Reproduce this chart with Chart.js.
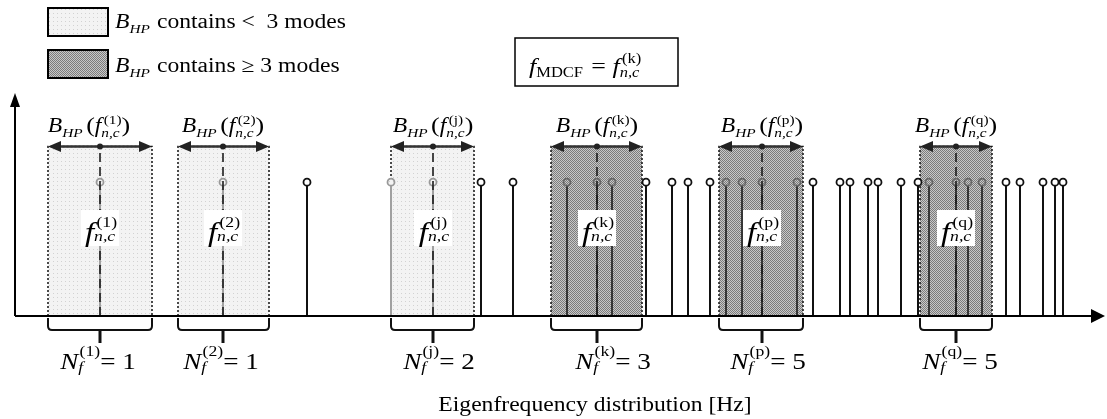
<!DOCTYPE html>
<html>
<head>
<meta charset="utf-8">
<script src="https://cdn.jsdelivr.net/npm/chart.js@4.4.1/dist/chart.umd.min.js"></script>
<style>
    body { margin: 0; background: #fff; }
    #wrap { width: 1107px; height: 419px; position: relative; }
</style>
</head>
<body>
<div id="wrap"><canvas id="modeChart"></canvas></div>
<script>
// eigenfrequencies of the modes, schematic units along the axis
const modeFreqs = [85, 208, 292, 376, 418, 466, 498, 552, 582, 597, 631, 657, 673, 695,
    711, 727, 747, 782, 798, 825, 835, 853, 863, 886, 903, 914, 941, 953, 967, 991,
    1005, 1028, 1040, 1048];

// half-power bands B_HP around each candidate frequency
const bandLeft = [33, 163, 376, 536, 704, 905];
const bandRight = [137, 254, 459, 627, 788, 977];
const bandCentre = [85, 208, 418, 582, 747, 941];
const bandTags = ['(1)', '(2)', '(j)', '(k)', '(p)', '(q)'];
const modeCounts = [1, 1, 2, 3, 5, 5];
const denseLimit = 3;

const stemHeight = 0.6;
const bandHeight = 0.76;
const freqMax = 1090;

// drawing constants
const SERIF = "'Liberation Serif', 'Times New Roman', serif";
const STRETCH = 1.18;
const bandLabelShift = [-11, 0, 0, 0, 0, 0];
const countLabelShift = [-2, -2, 6, 16, 6, 4];

const canvas = document.getElementById('modeChart');
const ctx0 = canvas.getContext('2d');

function makeDots() {
    const c = document.createElement('canvas');
    c.width = 4; c.height = 4;
    const g = c.getContext('2d');
    g.fillStyle = '#f3f3f3';
    g.fillRect(0, 0, 4, 4);
    g.fillStyle = '#d2d2d2';
    g.fillRect(1, 1, 1, 1);
    return ctx0.createPattern(c, 'repeat');
}

function makeChecker() {
    const c = document.createElement('canvas');
    c.width = 2; c.height = 2;
    const g = c.getContext('2d');
    g.fillStyle = '#c8c8c8';
    g.fillRect(0, 0, 2, 2);
    g.fillStyle = '#7c7c7c';
    g.fillRect(0, 0, 1, 1);
    g.fillRect(1, 1, 1, 1);
    return ctx0.createPattern(c, 'repeat');
}

const lightFill = makeDots();
const darkFill = makeChecker();

function isDense(i) {
    return modeCounts[i] >= denseLimit;
}

function bandOf(x) {
    return bandLeft.findIndex((l, i) => x >= l && x <= bandRight[i]);
}

function stemColour(x) {
    const i = bandOf(x);
    if (i < 0) return '#111';
    return isDense(i) ? '#363636' : '#a0a0a0';
}

function ringColour(x) {
    const i = bandOf(x);
    if (i < 0) return '#111';
    return isDense(i) ? '#666' : '#999';
}

function ringFill(x) {
    const i = bandOf(x);
    if (i < 0) return '#fff';
    return isDense(i) ? darkFill : lightFill;
}

// ---- rich text with sub/superscripts ----
function fontOf(p) {
    return (p.it ? 'italic ' : '') + p.size + 'px ' + SERIF;
}

function partWidth(ctx, p) {
    if (p.stack) return Math.max(...p.stack.map(q => partWidth(ctx, q) + (q.dx || 0)));
    ctx.font = fontOf(p);
    return ctx.measureText(p.t).width + (p.gap || 0);
}

function drawRich(ctx, x, y, parts, align) {
    ctx.save();
    const w = parts.reduce((s, p) => s + partWidth(ctx, p), 0);
    const x0 = align === 'left' ? x : x - w * STRETCH / 2;
    ctx.translate(x0, y);
    ctx.scale(STRETCH, 1);
    ctx.fillStyle = '#000';
    ctx.textAlign = 'left';
    ctx.textBaseline = 'alphabetic';
    let cx = 0;
    parts.forEach(p => {
        (p.stack || [p]).forEach(q => {
            ctx.font = fontOf(q);
            ctx.fillText(q.t, cx + (q.dx || 0), q.dy || 0);
        });
        cx += partWidth(ctx, p);
    });
    ctx.restore();
    return w * STRETCH;
}

function bhpParts(tag) {
    return [
        { t: 'B', size: 20, it: true },
        { t: 'HP', size: 13, it: true, dy: 5, gap: 3 },
        { t: '(', size: 22 },
        { t: 'f', size: 20, it: true },
        { stack: [{ t: tag, size: 13, dy: -8, dx: 2 }, { t: 'n,c', size: 13, it: true, dy: 5 }] },
        { t: ')', size: 22 }
    ];
}

function freqParts(tag) {
    return [
        { t: 'f', size: 28, it: true },
        { stack: [{ t: tag, size: 15, dy: -14, dx: 2 }, { t: 'n,c', size: 15, it: true, dy: 0 }] }
    ];
}

function countParts(tag, n) {
    return [
        { t: 'N', size: 23, it: true },
        { stack: [{ t: tag, size: 15, dy: -13, dx: 1 }, { t: 'f', size: 15, it: true, dy: 3 }] },
        { t: '= ' + n, size: 23 }
    ];
}

// ---- small shapes ----
function bandArrow(ctx, x1, x2, xc, y) {
    ctx.save();
    ctx.strokeStyle = '#333';
    ctx.lineWidth = 2.5;
    ctx.beginPath();
    ctx.moveTo(x1 + 8, y);
    ctx.lineTo(x2 - 8, y);
    ctx.stroke();
    ctx.fillStyle = '#222';
    ctx.beginPath();
    ctx.moveTo(x1, y); ctx.lineTo(x1 + 13, y - 5.5); ctx.lineTo(x1 + 13, y + 5.5);
    ctx.closePath(); ctx.fill();
    ctx.beginPath();
    ctx.moveTo(x2, y); ctx.lineTo(x2 - 13, y - 5.5); ctx.lineTo(x2 - 13, y + 5.5);
    ctx.closePath(); ctx.fill();
    ctx.beginPath();
    ctx.arc(xc, y, 3, 0, Math.PI * 2);
    ctx.fill();
    ctx.restore();
}

function brace(ctx, l, r, c, y0) {
    ctx.save();
    ctx.strokeStyle = '#111';
    ctx.lineWidth = 2;
    ctx.beginPath();
    ctx.moveTo(l, y0 + 2);
    ctx.lineTo(l, y0 + 10);
    ctx.quadraticCurveTo(l, y0 + 14, l + 4, y0 + 14);
    ctx.lineTo(r - 4, y0 + 14);
    ctx.quadraticCurveTo(r, y0 + 14, r, y0 + 10);
    ctx.lineTo(r, y0 + 2);
    ctx.stroke();
    ctx.lineWidth = 3;
    ctx.beginPath();
    ctx.moveTo(c, y0 + 14);
    ctx.lineTo(c, y0 + 27);
    ctx.stroke();
    ctx.restore();
}

const overlay = {
    id: 'overlay',
    afterDatasetsDraw(chart) {
        const ctx = chart.ctx;
        const xs = chart.scales.x;
        const ys = chart.scales.y;
        const area = chart.chartArea;
        const y0 = ys.getPixelForValue(0);
        const yTop = ys.getPixelForValue(bandHeight);

        // axes with arrow heads
        ctx.save();
        ctx.strokeStyle = '#000';
        ctx.fillStyle = '#000';
        ctx.lineWidth = 2;
        ctx.beginPath();
        ctx.moveTo(area.left, y0);
        ctx.lineTo(area.right - 10, y0);
        ctx.moveTo(area.left, y0);
        ctx.lineTo(area.left, area.top + 10);
        ctx.stroke();
        ctx.beginPath();
        ctx.moveTo(area.right, y0); ctx.lineTo(area.right - 14, y0 - 7); ctx.lineTo(area.right - 14, y0 + 7);
        ctx.closePath(); ctx.fill();
        ctx.beginPath();
        ctx.moveTo(area.left, area.top); ctx.lineTo(area.left - 5, area.top + 14); ctx.lineTo(area.left + 5, area.top + 14);
        ctx.closePath(); ctx.fill();
        ctx.restore();

        bandCentre.forEach((c, i) => {
            const l = xs.getPixelForValue(bandLeft[i]);
            const r = xs.getPixelForValue(bandRight[i]);
            const xc = xs.getPixelForValue(c);
            bandArrow(ctx, l, r, xc, yTop);
            drawRich(ctx, xc + bandLabelShift[i], yTop - 15, bhpParts(bandTags[i]), 'center');

            // label in the band on a white patch
            ctx.fillStyle = '#fff';
            ctx.fillRect(xc - 19, y0 - 106, 38, 36);
            drawRich(ctx, xc + 1, y0 - 75, freqParts(bandTags[i]), 'center');

            brace(ctx, l, r, xc, y0);
            drawRich(ctx, xc + countLabelShift[i], y0 + 53, countParts(bandTags[i], modeCounts[i]), 'center');
        });

        // legend
        ctx.save();
        ctx.lineWidth = 2;
        ctx.strokeStyle = '#000';
        ctx.fillStyle = lightFill;
        ctx.fillRect(48, 8, 60, 28);
        ctx.strokeRect(48, 8, 60, 28);
        ctx.fillStyle = darkFill;
        ctx.fillRect(48, 50, 60, 28);
        ctx.strokeRect(48, 50, 60, 28);
        ctx.restore();
        drawRich(ctx, 115, 28, [
            { t: 'B', size: 20, it: true },
            { t: 'HP', size: 13, it: true, dy: 5, gap: 6 },
            { t: 'contains <  3 modes', size: 20 }
        ], 'left');
        drawRich(ctx, 115, 72, [
            { t: 'B', size: 20, it: true },
            { t: 'HP', size: 13, it: true, dy: 5, gap: 6 },
            { t: 'contains \u2265 3 modes', size: 20 }
        ], 'left');

        // selected frequency box
        ctx.save();
        ctx.strokeStyle = '#000';
        ctx.lineWidth = 1.5;
        ctx.strokeRect(515, 38, 163, 48);
        ctx.restore();
        drawRich(ctx, 529, 73, [
            { t: 'f', size: 22, it: true },
            { t: 'MDCF', size: 14, dy: 4, gap: 7 },
            { t: '= ', size: 22 },
            { t: 'f', size: 22, it: true },
            { stack: [{ t: '(k)', size: 14, dy: -10, dx: 2 }, { t: 'n,c', size: 14, it: true, dy: 4 }] }
        ], 'left');

        // axis title
        drawRich(ctx, 595, 411, [{ t: 'Eigenfrequency distribution [Hz]', size: 20 }], 'center');
    }
};

const bandSets = bandLeft.map((l, i) => ({
    data: [
        { x: l, y: 0 }, { x: l, y: bandHeight },
        { x: bandRight[i], y: bandHeight }, { x: bandRight[i], y: 0 }
    ],
    fill: 'origin',
    backgroundColor: isDense(i) ? darkFill : lightFill,
    borderColor: '#111',
    borderWidth: 1.5,
    borderDash: [2, 2],
    pointRadius: 0,
    order: 3
}));

const stemSet = {
    data: modeFreqs.flatMap(f => [{ x: f, y: 0 }, { x: f, y: stemHeight }, { x: f, y: null }]),
    borderWidth: 2,
    borderColor: '#111',
    segment: { borderColor: c => stemColour(c.p0.parsed.x) },
    spanGaps: false,
    pointRadius: c => (c.raw && c.raw.y === stemHeight ? 3.5 : 0),
    pointBorderWidth: 1.8,
    pointBorderColor: c => ringColour(c.raw ? c.raw.x : 0),
    pointBackgroundColor: c => ringFill(c.raw ? c.raw.x : 0),
    order: 2
};

const centreSet = {
    data: bandCentre.flatMap(c => [{ x: c, y: 0 }, { x: c, y: bandHeight }, { x: c, y: null }]),
    borderColor: '#1c1c1c',
    borderWidth: 1.6,
    borderDash: [9, 5],
    spanGaps: false,
    pointRadius: 0,
    order: 1
};

new Chart(canvas, {
    type: 'line',
    data: { datasets: [...bandSets, stemSet, centreSet] },
    options: {
        responsive: true,
        maintainAspectRatio: false,
        animation: false,
        layout: { padding: { left: 15, right: 2, top: 93, bottom: 103 } },
        elements: { line: { tension: 0 } },
        scales: {
            x: { type: 'linear', min: 0, max: freqMax, display: false },
            y: { min: 0, max: 1, display: false }
        },
        plugins: {
            legend: { display: false },
            tooltip: { enabled: false }
        }
    },
    plugins: [overlay]
});
</script>
</body>
</html>
